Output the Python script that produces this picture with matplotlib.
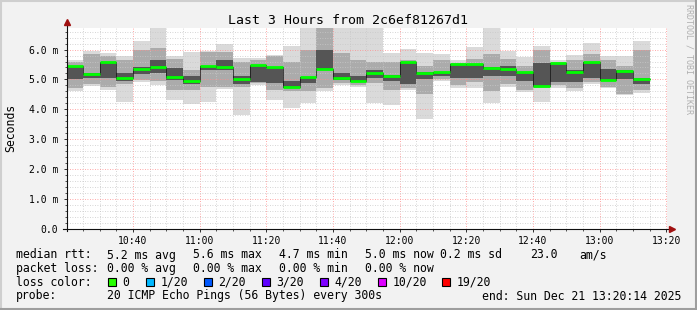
import matplotlib
matplotlib.use("Agg")
import matplotlib.pyplot as plt
from matplotlib.lines import Line2D
from matplotlib.patches import Rectangle
import numpy as np

# ---------------- data ----------------
title = "Last 3 Hours from 2c6ef81267d1"
start_time = "10:20"
step_min = 5

median = [5.44, 5.17, 5.58, 5.05, 5.35, 5.41, 5.07, 4.94, 5.46, 5.43,
          5.02, 5.47, 5.43, 4.75, 5.07, 5.35, 5.05, 4.96, 5.21, 5.12,
          5.59, 5.23, 5.25, 5.50, 5.50, 5.38, 5.34, 5.25, 4.78, 5.56,
          5.24, 5.59, 4.98, 5.29, 5.00]
smoke_min = [4.63, 4.79, 4.65, 4.25, 4.92, 4.83, 4.31, 4.19, 4.23, 4.69,
             3.81, 4.82, 4.31, 4.06, 4.20, 4.63, 4.83, 4.76, 4.20, 4.15,
             4.65, 3.68, 4.96, 4.70, 4.73, 4.20, 4.76, 4.59, 4.23, 4.70,
             4.63, 4.84, 4.70, 4.48, 4.56]
smoke_max = [5.65, 5.96, 5.88, 5.80, 6.29, 6.90, 5.80, 5.92, 5.95, 6.19,
             5.73, 5.73, 5.83, 6.12, 6.90, 6.90, 6.90, 6.90, 6.90, 5.88,
             6.02, 5.88, 5.84, 5.65, 6.10, 6.90, 5.95, 5.76, 6.12, 5.65,
             5.82, 6.21, 5.80, 5.80, 6.29]
mid_lo = [4.72, 4.86, 4.76, 4.85, 4.98, 4.95, 4.65, 4.65, 4.76, 4.76,
          4.76, 4.87, 4.65, 4.60, 4.60, 4.70, 4.88, 4.80, 4.87, 4.65,
          4.70, 4.50, 5.00, 4.80, 4.90, 4.60, 4.85, 4.65, 4.70, 4.80,
          4.70, 4.90, 4.75, 4.50, 4.65]
mid_hi = [5.60, 5.85, 5.78, 5.65, 5.98, 6.04, 5.67, 5.30, 5.92, 5.92,
          5.60, 5.65, 5.78, 5.60, 5.99, 6.90, 5.88, 5.65, 5.60, 5.60,
          5.65, 5.45, 5.65, 5.55, 5.70, 5.85, 5.70, 5.45, 5.99, 5.60,
          5.65, 5.85, 5.65, 5.45, 5.99]
core_lo = [5.00, 5.05, 5.05, 4.95, 5.18, 5.20, 4.98, 4.85, 5.30, 5.33,
           4.86, 4.93, 4.87, 4.70, 4.87, 5.32, 4.98, 4.90, 5.05, 4.95,
           4.85, 5.00, 5.10, 5.05, 5.05, 5.10, 5.10, 4.95, 4.78, 4.90,
           4.90, 5.05, 4.98, 5.00, 4.85]
core_hi = [5.42, 5.20, 5.56, 5.20, 5.40, 5.65, 5.38, 5.12, 5.45, 5.65,
           5.10, 5.45, 5.40, 4.95, 5.09, 5.99, 5.20, 5.10, 5.30, 5.15,
           5.60, 5.25, 5.25, 5.50, 5.50, 5.40, 5.45, 5.25, 5.55, 5.55,
           5.30, 5.60, 5.35, 5.30, 5.05]

x_tick_labels = ["10:40", "11:00", "11:20", "11:40", "12:00",
                 "12:20", "12:40", "13:00", "13:20"]
y_ticks = [0, 1, 2, 3, 4, 5, 6]
y_tick_labels = ["0.0", "1.0 m", "2.0 m", "3.0 m", "4.0 m", "5.0 m", "6.0 m"]

legend_rows = [
    [("median rtt:", 16), ("5.2 ms avg", 107), ("5.6 ms max", 193),
     ("4.7 ms min", 279), ("5.0 ms now", 365), ("0.2 ms sd", 440),
     ("23.0", 530), ("am/s", 579)],
    [("packet loss:", 16), ("0.00 % avg", 107), ("0.00 % max", 193),
     ("0.00 % min", 279), ("0.00 % now", 365)],
]
loss_labels = ["0", "1/20", "2/20", "3/20", "4/20", "10/20", "19/20"]
loss_colors = ["#26ff00", "#00b8ff", "#0059ff", "#5e00ff", "#7e00ff", "#dd00ff", "#ff0000"]
loss_box_x = [108, 146, 204, 262, 320, 378, 442]
probe_text = "20 ICMP Echo Pings (56 Bytes) every 300s"
end_text = "end: Sun Dec 21 13:20:14 2025"

# ---------------- layout ----------------
W, H = 697, 310
fig = plt.figure(figsize=(W / 100, H / 100), dpi=100, facecolor="#f2f2f2")

def fx(px):
    return px / W

def fy(py):
    return 1 - py / H

ax_l, ax_r, ax_t, ax_b = 67, 667, 28, 229
ax = fig.add_axes([fx(ax_l), fy(ax_b), (ax_r - ax_l) / W, (ax_b - ax_t) / H])
ax.set_facecolor("white")

def to_min(s):
    h, m = s.split(":")
    return int(h) * 60 + int(m)

t0 = to_min(start_time)
n = len(median)
x = np.arange(n) * step_min
x_tick_pos = [to_min(s) - t0 for s in x_tick_labels]

ax.set_xlim(0.25, 180.25)
ax.set_ylim(0, 6.72)

# smoke layers
ax.bar(x, np.array(smoke_max) - np.array(smoke_min), bottom=smoke_min,
       width=step_min, align="edge", color="#dadada", linewidth=0, zorder=1)
ax.bar(x, np.array(mid_hi) - np.array(mid_lo), bottom=mid_lo,
       width=step_min, align="edge", color="#ababab", linewidth=0, zorder=2)
ax.bar(x, np.array(core_hi) - np.array(core_lo), bottom=core_lo,
       width=step_min, align="edge", color="#555555", linewidth=0, zorder=3)

# median
xs = np.r_[x, x[-1] + step_min]
ax.step(xs, np.r_[median, median[-1]], where="post", color="#111111",
        lw=0.5, zorder=4)
ax.hlines(median, x, x + step_min, colors="#00ff00", lw=2.0, zorder=5)

# grid
ax.set_xticks(x_tick_pos)
ax.set_xticklabels(x_tick_labels)
ax.set_xticks(np.arange(5, 181, 5), minor=True)
ax.set_yticks(y_ticks)
ax.set_yticklabels(y_tick_labels)
ax.set_yticks(np.arange(0.2, 6.72, 0.2), minor=True)
ax.grid(which="minor", color="#c8c8c8", linestyle=(0, (1, 2)), lw=0.6, zorder=6)
ax.grid(which="major", color="#ff8c8c", linestyle=(0, (1, 2)), lw=0.6, zorder=6)
ax.set_axisbelow(False)

for s in ax.spines.values():
    s.set_visible(False)

mono = "DejaVu Sans Mono"
ax.tick_params(axis="both", which="major", length=2, width=0.6, color="#101010",
               labelsize=7, direction="out")
ax.tick_params(axis="both", which="minor", length=1.2, width=0.5, color="#101010",
               direction="out")
ax.tick_params(axis="x", pad=3)
ax.tick_params(axis="y", pad=4.2)
for lab in ax.get_xticklabels() + ax.get_yticklabels():
    lab.set_family(mono)

# axis lines + arrows
fig.add_artist(Line2D([fx(67), fx(67)], [fy(231), fy(23)], color="#101010", lw=0.8))
fig.add_artist(Line2D([fx(63), fx(671)], [fy(229), fy(229)], color="#101010", lw=0.8))
fig.add_artist(Line2D([fx(67)], [fy(22)], marker="^", markersize=4.5,
                      color="#a01010", linestyle="none"))
fig.add_artist(Line2D([fx(672)], [fy(229)], marker=">", markersize=4.5,
                      color="#a01010", linestyle="none"))

# title & labels
fig.text(fx(348), fy(20), title, family=mono, fontsize=9.5, ha="center", va="center")
fig.text(fx(11), fy(128), "Seconds", family=mono, fontsize=8.3, rotation=90,
         ha="center", va="center")
fig.text(fx(689), fy(4), "RRDTOOL / TOBI OETIKER", family=mono, fontsize=6,
         rotation=270, ha="center", va="top", color="#b0b0b0")

# legend
fs = 8.3
row_y = [255, 268.5, 282, 296]
for r, row in enumerate(legend_rows):
    for txt, px in row:
        fig.text(fx(px), fy(row_y[r]), txt, family=mono, fontsize=fs,
                 ha="left", va="center")
fig.text(fx(16), fy(row_y[2]), "loss color:", family=mono, fontsize=fs,
         ha="left", va="center")
for lbl, col, bx in zip(loss_labels, loss_colors, loss_box_x):
    fig.add_artist(Rectangle((fx(bx), fy(row_y[2] + 3.8)), 7.5 / W, 7.5 / H,
                             facecolor=col, edgecolor="black", lw=0.8,
                             transform=fig.transFigure))
    fig.text(fx(bx + 14.5), fy(row_y[2]), lbl, family=mono, fontsize=fs,
             ha="left", va="center")
fig.text(fx(16), fy(row_y[3]), "probe:", family=mono, fontsize=fs,
         ha="left", va="center")
fig.text(fx(107), fy(row_y[3]), probe_text, family=mono, fontsize=fs,
         ha="left", va="center")
fig.text(fx(681), fy(row_y[3]), end_text, family=mono, fontsize=fs,
         ha="right", va="center")

# 3D frame
fig.add_artist(Line2D([fx(1), fx(1)], [fy(0), fy(309)], color="#cfcfcf", lw=1.5))
fig.add_artist(Line2D([fx(0), fx(696)], [fy(1), fy(1)], color="#cfcfcf", lw=1.5))
fig.add_artist(Line2D([fx(696), fx(696)], [fy(0), fy(310)], color="#9e9e9e", lw=1.5))
fig.add_artist(Line2D([fx(0), fx(697)], [fy(309), fy(309)], color="#9e9e9e", lw=1.5))

fig.savefig("out.png", dpi=100, facecolor=fig.get_facecolor())
